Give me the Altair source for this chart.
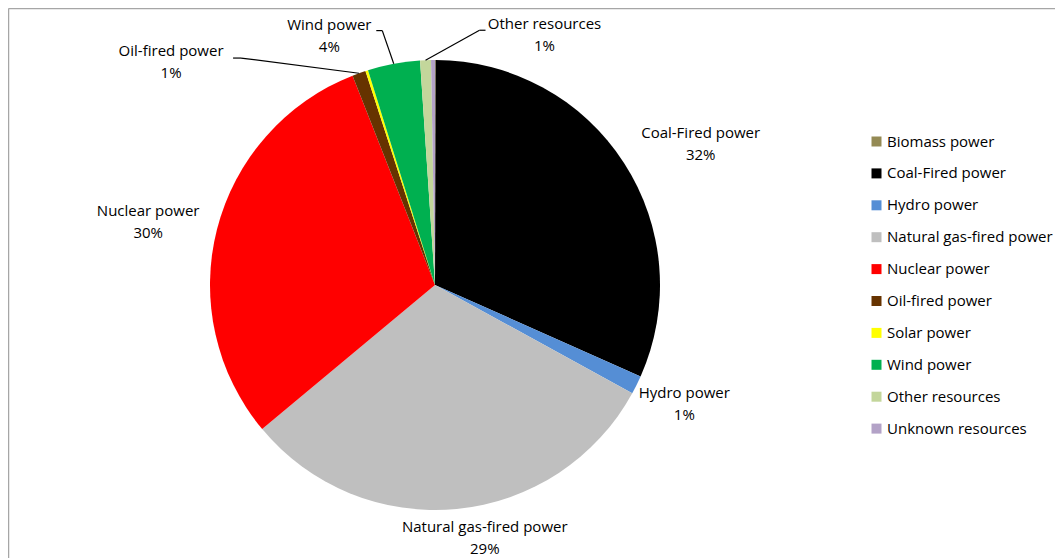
import math
import altair as alt
import pandas as pd

categories = ["Biomass power", "Coal-Fired power", "Hydro power", "Natural gas-fired power",
              "Nuclear power", "Oil-fired power", "Solar power", "Wind power",
              "Other resources", "Unknown resources"]
shares = [0.05, 31.6, 1.33, 30.94, 30.08, 0.97, 0.19, 3.75, 0.78, 0.28]
pct_labels = ["", "32%", "1%", "29%", "30%", "1%", "", "4%", "1%", ""]
colors = ["#948a54", "#000000", "#558ed5", "#bfbfbf", "#ff0000", "#663300",
          "#ffff00", "#00b050", "#c3d69b", "#b3a2c7"]

# layout (pixels, chart coordinates)
OX, OY = 12, 12
CX, CY = 435 - OX, 285 - OY
R = 225
FONT = "Open Sans"
FS = 15
LH = 22

df = pd.DataFrame({
    "category": categories,
    "share": shares,
    "idx": list(range(len(categories))),
    "label": [f"{c}\n{p}" if p else "" for c, p in zip(categories, pct_labels)],
})

# label placement: radial distance, dx, dy (to the centre of the two-line block)
label_layout = {
    "Coal-Fired power": (301, 13, 23),
    "Hydro power": (276, 2, -4),
    "Natural gas-fired power": (257, 25, -3),
    "Nuclear power": (294, -2, 10),
    "Oil-fired power": (346, -147, 103),
    "Wind power": (271, -56, 17),
    "Other resources": (273, 121, 23),
}
# leader line elbows relative to label centre: (dx_start, dy, dx_end)
leader_layout = {
    "Oil-fired power": (62, -4.3, 70),
    "Wind power": (47, -5, 53),
    "Other resources": (-59, -5, -65),
}

total = sum(shares)
mids = {}
acc = 0.0
for c, s in zip(categories, shares):
    mids[c] = (acc + s / 2) / total * 2 * math.pi
    acc += s

segs = []
for c, (ddx, ddy, ddx2) in leader_layout.items():
    rr, ldx, ldy = label_layout[c]
    a = mids[c]
    lx = CX + rr * math.sin(a) + ldx
    ly = CY - rr * math.cos(a) + ldy
    ex = CX + R * math.sin(a)
    ey = CY - R * math.cos(a)
    segs.append({"x": lx + ddx, "y": ly + ddy, "x2": lx + ddx2, "y2": ly + ddy})
    segs.append({"x": lx + ddx2, "y": ly + ddy, "x2": ex, "y2": ey})
seg_df = pd.DataFrame(segs)

base = alt.Chart(df).encode(
    theta=alt.Theta("share:Q", stack=True),
    order=alt.Order("idx:Q"),
)

pie = base.mark_arc(outerRadius=R).encode(
    x=alt.value(CX),
    y=alt.value(CY),
    color=alt.Color(
        "category:N",
        scale=alt.Scale(domain=categories, range=colors),
        sort=categories,
        legend=alt.Legend(
            title=None, orient="none", legendX=869 - OX, legendY=134 - OY,
            symbolType="square", symbolSize=100, symbolStrokeWidth=0,
            labelFont=FONT, labelFontSize=FS, labelColor="#000000",
            rowPadding=15.9, labelOffset=3, padding=0, labelLimit=400,
        ),
    ),
)

texts = []
for c, (rr, ddx, ddy) in label_layout.items():
    texts.append(
        base.mark_text(radius=rr, dx=ddx, dy=ddy - LH / 2, font=FONT, fontSize=FS,
                       lineBreak="\n", lineHeight=LH, align="center",
                       baseline="middle", color="#000000").encode(
            x=alt.value(CX),
            y=alt.value(CY),
            text=alt.condition(f"datum.category === '{c}'", alt.Text("label:N"), alt.value("")),
        )
    )

leaders = alt.Chart(seg_df).mark_rule(color="#000000", strokeWidth=1.2).encode(
    x=alt.X("x:Q", scale=None, axis=None),
    y=alt.Y("y:Q", scale=None, axis=None),
    x2="x2:Q",
    y2="y2:Q",
)

border_df = pd.DataFrame({"k": [0]})
border_top = alt.Chart(border_df).mark_rule(color="#a6a6a6", strokeWidth=1.5).encode(
    x=alt.value(8.5 - OX), x2=alt.value(1063 - OX), y=alt.value(8.5 - OY)
)
border_left = alt.Chart(border_df).mark_rule(color="#a6a6a6", strokeWidth=1.5).encode(
    x=alt.value(8.5 - OX), y=alt.value(8.5 - OY), y2=alt.value(558 - OY)
)

chart = alt.layer(border_top, border_left, pie, *texts, leaders).properties(
    width=1043, height=546,
    autosize=alt.AutoSizeParams(type="none"),
    padding={"left": 4, "top": 4, "right": 0, "bottom": 0},
).configure_view(strokeWidth=0)

chart.save("out.html", embed_options={"renderer": "svg", "actions": False})
